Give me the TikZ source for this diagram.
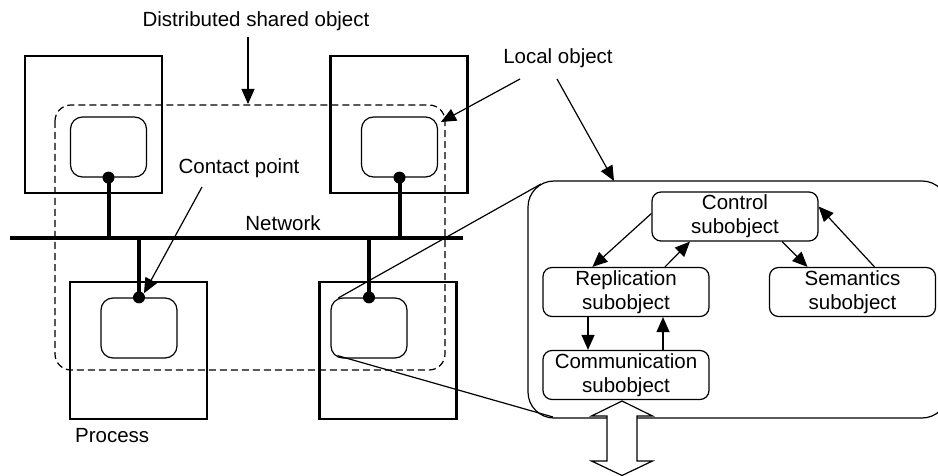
\documentclass[tikz,border=0pt]{standalone}
\usepackage{fontspec}
\setmainfont{Liberation Sans}
\usetikzlibrary{arrows.meta,positioning}
\begin{document}
\begin{tikzpicture}[x=1pt,y=-1pt,
  every node/.style={font=\fontsize{20.5}{24}\selectfont},
  process/.style={draw,line width=2.2pt,minimum width=137pt,minimum height=137pt,inner sep=0pt},
  localobj/.style={draw,line width=1.2pt,rounded corners=12pt,minimum width=76pt,minimum height=60pt,inner sep=0pt},
  subobj/.style={draw,line width=1.2pt,rounded corners=9pt,minimum width=166pt,minimum height=49pt,inner sep=0pt,align=center},
  label/.style={anchor=base,inner sep=0pt},
  tip/.style={-{Triangle[length=15pt,width=13pt]},line width=1.2pt},
  wire/.style={line width=4pt},
  contact/.style={circle,fill=black,inner sep=0pt,minimum size=12pt}]
\useasboundingbox (0,0) rectangle (938,476);

% processes
\node[process] (pTL) at (93.5,124.5) {};
\node[process] (pTR) at (399,124.5) {};
\node[process] (pBL) at (138.5,350.5) {};
\node[process] (pBR) at (388,350.5) {};

% local objects inside the processes
\node[localobj] (oTL) at (108.5,147) {};
\node[localobj] (oTR) at (399.5,147) {};
\node[localobj] (oBL) at (139,328) {};
\node[localobj] (oBR) at (369,328) {};

% distributed shared object outline
\draw[line width=1.2pt,dash pattern=on 7pt off 4pt,rounded corners=16pt] (55,105) rectangle (445,370);

% network and attachments
\coordinate (netL) at (10,238);
\coordinate (netR) at (463,238);
\draw[line width=4.5pt] (netL) -- (netR);
\foreach \o in {oTL,oTR} {
  \draw[wire] (\o.south) -- (\o.south |- netL);
  \node[contact] at (\o.south) {};
}
\foreach \o in {oBL,oBR} {
  \draw[wire] (\o.north) -- (\o.north |- netL);
  \node[contact] (c\o) at (\o.north) {};
}

% labels
\node[label] (dso) at (256,27) {Distributed shared object};
\node[label] (lo) at (558,64) {Local object};
\node[label] (cp) at (239,174) {Contact point};
\node[label] (net) at (283,230) {Network};
\node[label,anchor=base west] (proc) at (75,442) {Process};

% enlarged local object
\draw[line width=1.2pt,rounded corners=26pt] (528,181) rectangle (948,418);
\coordinate (bigTL) at (541,184);
\coordinate (bigBL) at (553,417);
\coordinate (bigTop) at (614,181);
\draw[line width=1.2pt] ([xshift=8pt,yshift=-0.5pt]oBR.north west) -- (bigTL);
\draw[line width=1.2pt] ([xshift=7pt,yshift=3pt]oBR.south west) -- (bigBL);

% subobjects
\node[subobj] (ctrl) at (735,216.5) {Control\\subobject};
\node[subobj] (rep) at (626,292) {Replication\\subobject};
\node[subobj] (sem) at (852.5,292) {Semantics\\subobject};
\node[subobj] (comm) at (626,375) {Communication\\subobject};

% pointer arrows
\coordinate (dsoS) at (248,37);
\draw[tip] (dsoS) -- (248,104);
\coordinate (loA) at (520,79);
\coordinate (loB) at (557,79);
\draw[tip] (loA) -- (441,122);
\draw[tip] (loB) -- (bigTop);
\coordinate (cpS) at (202,187);
\draw[tip] (cpS) -- ([xshift=5pt,yshift=-2pt]coBL.north);

% subobject interactions
\draw[tip] ([yshift=3pt]ctrl.west) -- ([xshift=50pt]rep.north west);
\draw[tip] ([xshift=39pt]rep.north) -- ([xshift=-45pt]ctrl.south);
\draw[tip] ([xshift=47pt]ctrl.south) -- ([xshift=-45pt]sem.north);
\draw[tip] ([xshift=22pt]sem.north) -- ([yshift=10pt]ctrl.east);
\draw[tip] ([xshift=-38pt]rep.south) -- ([xshift=-38pt]comm.north);
\draw[tip] ([xshift=37pt]comm.north) -- ([xshift=37pt]rep.south);

% message channel
\draw[line width=1.2pt,fill=white] (622,401) -- (652.5,416) -- (637,416) -- (637,461)
  -- (652.5,461) -- (622,475.5) -- (591.5,461) -- (607,461) -- (607,416) -- (591.5,416) -- cycle;
\end{tikzpicture}
\end{document}
